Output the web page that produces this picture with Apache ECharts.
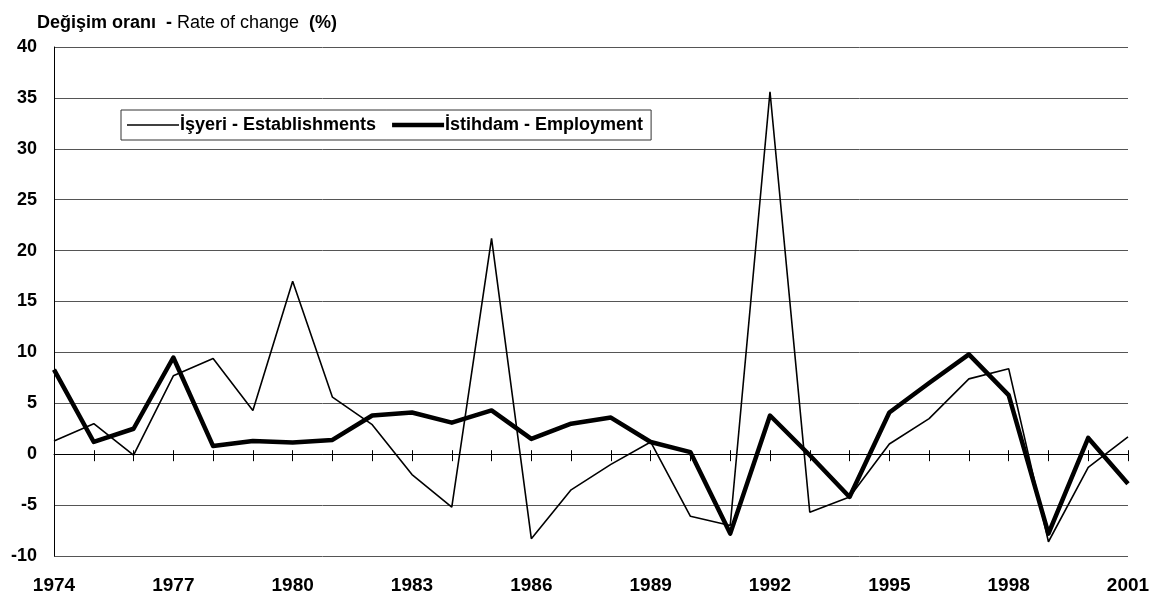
<!DOCTYPE html>
<html>
<head>
<meta charset="utf-8">
<script src="https://cdn.jsdelivr.net/npm/echarts@6/dist/echarts.min.js"></script>
<style>
html, body { margin: 0; padding: 0; background: #fff; }
#main { width: 1164px; height: 600px; }
</style>
</head>
<body>
<div id="main"></div>
<script>
var years = ['1974','1975','1976','1977','1978','1979','1980','1981','1982','1983',
    '1984','1985','1986','1987','1988','1989','1990','1991','1992','1993',
    '1994','1995','1996','1997','1998','1999','2000','2001'];
// İşyeri - Establishments
var establishments = [1.3, 3.0, -0.1, 7.7, 9.4, 4.3, 17.0, 5.6, 2.9, -2.0,
    -5.2, 21.2, -8.3, -3.5, -1.0, 1.2, -6.1, -7.0, 35.6, -5.7,
    -4.2, 1.0, 3.5, 7.4, 8.4, -8.6, -1.3, 1.7];
// İstihdam - Employment
var employment = [8.3, 1.2, 2.5, 9.5, 0.8, 1.3, 1.15, 1.4, 3.8, 4.1,
    3.1, 4.3, 1.5, 3.0, 3.6, 1.2, 0.2, -7.8, 3.8, -0.1,
    -4.2, 4.1, 7.0, 9.8, 5.8, -7.8, 1.6, -2.9];
var seriesNames = ['İşyeri - Establishments', 'İstihdam - Employment'];

var font = 'Arial, "Liberation Sans", sans-serif';
var gridPos = { left: 54, right: 36, top: 47, bottom: 44 };

var myChart = echarts.init(document.getElementById('main'));
var option = {
    animation: false,
    backgroundColor: '#fff',
    title: {
        left: 32,
        top: 9,
        text: '{b|Değişim oranı  - }{n|Rate of change  }{b|(%)}',
        textStyle: {
            fontWeight: 'normal',
            rich: {
                b: { fontFamily: font, fontSize: 18, fontWeight: 'bold', color: '#000' },
                n: { fontFamily: font, fontSize: 18, fontWeight: 'normal', color: '#000' }
            }
        }
    },
    legend: {
        left: 121,
        top: 110,
        orient: 'horizontal',
        itemWidth: 52,
        itemHeight: 10,
        itemGap: 16,
        padding: [6, 8, 6, 6],
        borderColor: '#333',
        borderWidth: 1,
        textStyle: { fontFamily: font, fontSize: 18, fontWeight: 'bold', color: '#000', padding: [0, 0, 0, -4] },
        data: [
            { name: seriesNames[0], icon: 'path://M0,0 L60,0 L60,2 L0,2 Z', itemStyle: { color: '#000' } },
            { name: seriesNames[1], icon: 'path://M0,0 L60,0 L60,5 L0,5 Z', itemStyle: { color: '#000' } }
        ]
    },
    grid: [
        { left: gridPos.left, right: gridPos.right, top: gridPos.top, bottom: gridPos.bottom },
        { left: gridPos.left, right: gridPos.right, top: gridPos.top, bottom: gridPos.bottom }
    ],
    xAxis: [
        {
            // labels along the bottom
            gridIndex: 0,
            type: 'category',
            data: years,
            boundaryGap: false,
            position: 'bottom',
            axisLine: { show: false, onZero: false },
            axisTick: { show: false },
            axisLabel: {
                interval: 2,
                margin: 20,
                fontFamily: font,
                fontSize: 19,
                fontWeight: 'bold',
                color: '#000',
                showMaxLabel: true
            },
            splitLine: { show: false }
        },
        {
            // zero line, ticks pointing up
            gridIndex: 0,
            type: 'category',
            data: years,
            boundaryGap: false,
            position: 'top',
            axisLine: { show: true, onZero: true, lineStyle: { color: '#000', width: 1 } },
            axisTick: { show: true, interval: 0, length: 4, lineStyle: { color: '#000' } },
            axisLabel: { show: false },
            splitLine: { show: false }
        },
        {
            // zero line ticks pointing down
            gridIndex: 1,
            type: 'category',
            data: years,
            boundaryGap: false,
            position: 'bottom',
            axisLine: { show: false, onZero: true },
            axisTick: { show: true, interval: 0, length: 7, lineStyle: { color: '#000' } },
            axisLabel: { show: false },
            splitLine: { show: false }
        }
    ],
    yAxis: [
        {
            gridIndex: 0,
            type: 'value',
            min: -10,
            max: 40,
            interval: 5,
            axisLine: { show: true, lineStyle: { color: '#000', width: 1 } },
            axisTick: { show: false },
            axisLabel: {
                margin: 17,
                fontFamily: font,
                fontSize: 18,
                fontWeight: 'bold',
                color: '#000'
            },
            splitLine: { show: true, lineStyle: { color: '#555', width: 1 } }
        },
        {
            gridIndex: 1,
            type: 'value',
            min: -10,
            max: 40,
            interval: 5,
            show: false
        }
    ],
    series: [
        {
            name: seriesNames[0],
            type: 'line',
            xAxisIndex: 0,
            yAxisIndex: 0,
            data: establishments,
            symbol: 'none',
            z: 3,
            lineStyle: { color: '#000', width: 1.6 },
            itemStyle: { color: '#000' }
        },
        {
            name: seriesNames[1],
            type: 'line',
            xAxisIndex: 0,
            yAxisIndex: 0,
            data: employment,
            symbol: 'none',
            z: 4,
            lineStyle: { color: '#000', width: 4.5, join: 'round' },
            itemStyle: { color: '#000' }
        }
    ]
};
myChart.setOption(option);
</script>
</body>
</html>
